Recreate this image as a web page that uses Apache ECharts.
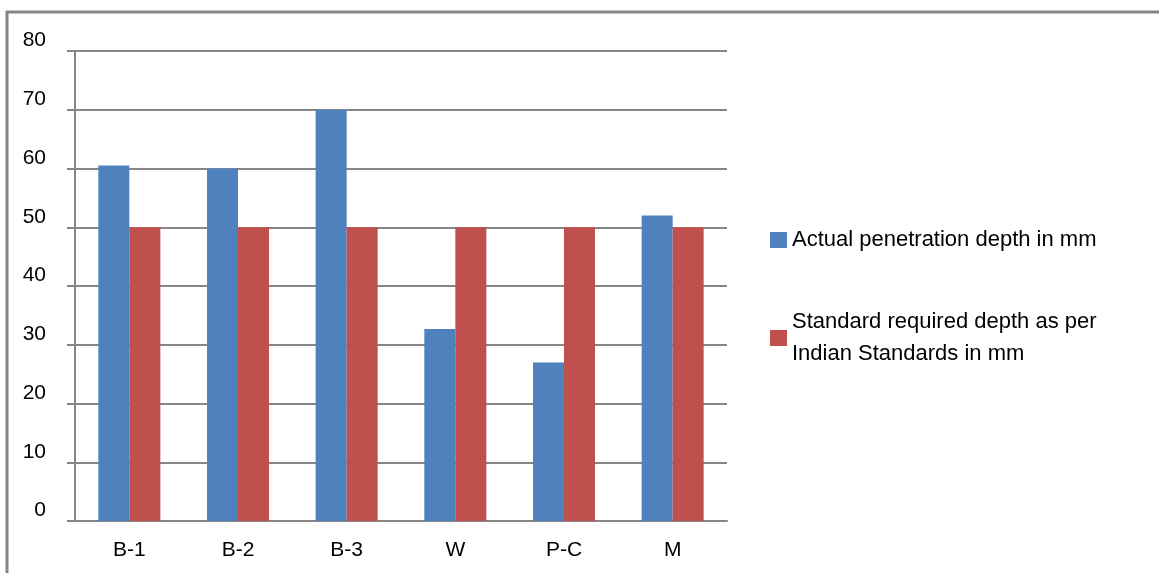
<!DOCTYPE html>
<html>
<head>
<meta charset="utf-8">
<script src="https://cdn.jsdelivr.net/npm/echarts@6/dist/echarts.min.js"></script>
<style>
  html, body { margin: 0; padding: 0; background: #fff; }
  #chart { width: 1159px; height: 573px; }
</style>
</head>
<body>
<div id="chart"></div>
<script>
const categories = ['B-1', 'B-2', 'B-3', 'W', 'P-C', 'M'];
const actualDepth = [60.5, 60, 70, 32.7, 27, 52];
const standardDepth = [50, 50, 50, 50, 50, 50];
const seriesNames = ['Actual penetration depth in mm', 'Standard required depth as per\nIndian Standards in mm'];

const font = '"Liberation Sans", Arial, sans-serif';
const gray = '#868686';

var chart = echarts.init(document.getElementById('chart'));
chart.setOption({
  animation: false,
  textStyle: { fontFamily: font },
  graphic: [
    {
      type: 'polyline',
      shape: { points: [[7, 573], [7, 12], [1159, 12]] },
      style: { stroke: gray, lineWidth: 3, fill: null }
    }
  ],
  grid: { left: 75, top: 51, right: 432, bottom: 52 },
  legend: {
    orient: 'vertical',
    left: 765,
    top: 219,
    itemWidth: 17,
    itemHeight: 16,
    itemGap: 50,
    icon: 'rect',
    textStyle: { fontSize: 22, lineHeight: 32, color: '#000', fontFamily: font },
    data: seriesNames
  },
  xAxis: {
    type: 'category',
    data: categories,
    axisLine: { lineStyle: { color: gray, width: 2 } },
    axisTick: { length: 9, lineStyle: { color: gray, width: 2 } },
    axisLabel: { color: '#000', fontSize: 21, margin: 19, fontFamily: font }
  },
  yAxis: {
    type: 'value',
    min: 0,
    max: 80,
    interval: 10,
    axisLine: { show: true, lineStyle: { color: gray, width: 2 } },
    axisTick: { show: true, length: 8, lineStyle: { color: gray, width: 2 } },
    splitLine: { lineStyle: { color: gray, width: 2 } },
    axisLabel: { color: '#000', fontSize: 21, margin: 29, verticalAlign: 'bottom', fontFamily: font }
  },
  series: [
    {
      name: seriesNames[0],
      type: 'bar',
      data: actualDepth,
      barWidth: 31,
      barGap: '0%',
      itemStyle: { color: '#4F81BD' }
    },
    {
      name: seriesNames[1],
      type: 'bar',
      data: standardDepth,
      barWidth: 31,
      itemStyle: { color: '#C0504D' }
    }
  ]
});
</script>
</body>
</html>
